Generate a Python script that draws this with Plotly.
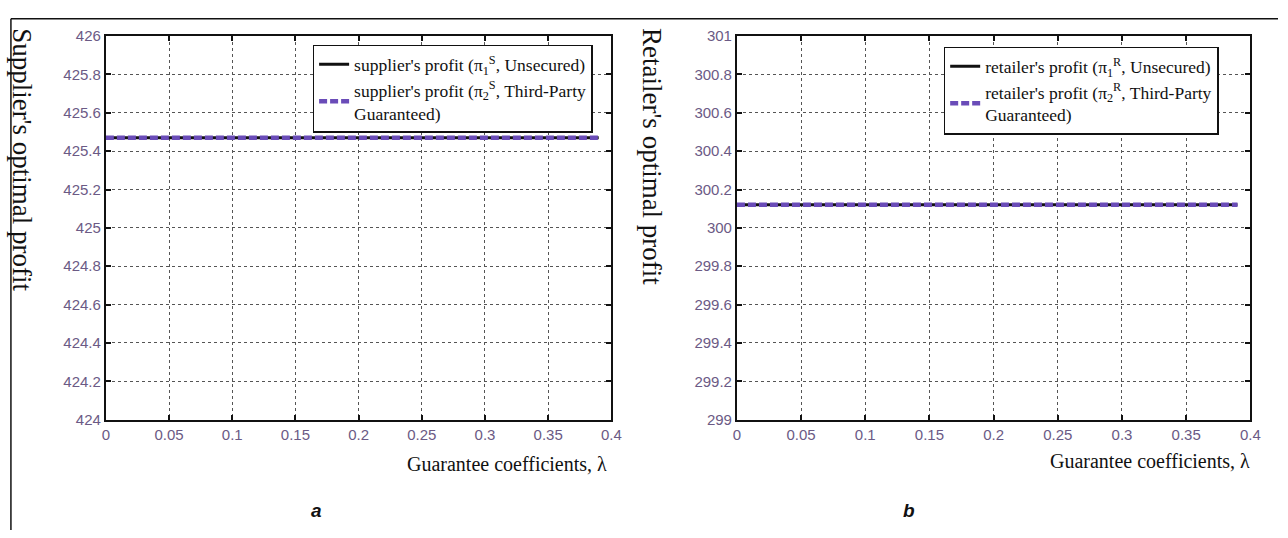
import plotly.graph_objects as go

# ---- data ----
lam = [0, 0.05, 0.1, 0.15, 0.2, 0.25, 0.3, 0.35, 0.39]
supplier_unsecured = [425.47] * 9
supplier_guaranteed = [425.47] * 9
retailer_unsecured = [300.12] * 9
retailer_guaranteed = [300.12] * 9

x_ticks = [0, 0.05, 0.1, 0.15, 0.2, 0.25, 0.3, 0.35, 0.4]
x_ticklabels = ["0", "0.05", "0.1", "0.15", "0.2", "0.25", "0.3", "0.35", "0.4"]
y_ticks_a = [424, 424.2, 424.4, 424.6, 424.8, 425, 425.2, 425.4, 425.6, 425.8, 426]
y_ticks_b = [299, 299.2, 299.4, 299.6, 299.8, 300, 300.2, 300.4, 300.6, 300.8, 301]

W, H = 1288, 538
def px_x(p): return p / W
def px_y(p): return 1 - p / H

TICKCOL = "#6b5a85"
SERIF = "Liberation Serif, Times New Roman, serif"
SANS = "Liberation Sans Narrow, Liberation Sans, Arial, sans-serif"
BLACK = "#111111"
PURPLE = "#6a4cb8"
DASH = "8px,3px"

fig = go.Figure()

fig.add_trace(go.Scatter(x=lam, y=supplier_unsecured, mode="lines",
                         line=dict(color=BLACK, width=3),
                         name="supplier's profit (π<sub>1</sub><sup>S</sup>, Unsecured)",
                         xaxis="x", yaxis="y", legend="legend"))
fig.add_trace(go.Scatter(x=lam, y=supplier_guaranteed, mode="lines",
                         line=dict(color=PURPLE, width=4.5, dash=DASH),
                         name="supplier's profit (π<sub>2</sub><sup>S</sup>, Third-Party<br>Guaranteed)",
                         xaxis="x", yaxis="y", legend="legend"))
fig.add_trace(go.Scatter(x=lam, y=retailer_unsecured, mode="lines",
                         line=dict(color=BLACK, width=3),
                         name="retailer's profit (π<sub>1</sub><sup>R</sup>, Unsecured)",
                         xaxis="x2", yaxis="y2", legend="legend2"))
fig.add_trace(go.Scatter(x=lam, y=retailer_guaranteed, mode="lines",
                         line=dict(color=PURPLE, width=4.5, dash=DASH),
                         name="retailer's profit (π<sub>2</sub><sup>R</sup>, Third-Party<br>Guaranteed)",
                         xaxis="x2", yaxis="y2", legend="legend2"))

axis_common = dict(showline=True, linecolor=BLACK, linewidth=2, mirror="ticks",
                   ticks="inside", ticklen=5, tickcolor=BLACK, tickwidth=1.5,
                   showgrid=True, gridcolor="#555555", griddash="dot", gridwidth=1,
                   zeroline=False, tickfont=dict(family=SANS, size=15, color=TICKCOL))

ybot, ytop = px_y(424), px_y(28)
fig.update_layout(
    width=W, height=H, autosize=False,
    margin=dict(l=0, r=0, t=0, b=0),
    paper_bgcolor="white", plot_bgcolor="white",
    xaxis=dict(domain=[px_x(103), px_x(614)], range=[0, 0.4], tickvals=x_ticks,
               ticktext=x_ticklabels, anchor="y", **axis_common),
    yaxis=dict(domain=[ybot, ytop], range=[424, 426], tickvals=y_ticks_a,
               ticktext=[f"{v:g}" for v in y_ticks_a], anchor="x", **axis_common),
    xaxis2=dict(domain=[px_x(741), px_x(1260)], range=[0, 0.4], tickvals=x_ticks,
                ticktext=x_ticklabels, anchor="y2", **axis_common),
    yaxis2=dict(domain=[ybot, ytop], range=[299, 301], tickvals=y_ticks_b,
                ticktext=[f"{v:g}" for v in y_ticks_b], anchor="x2", **axis_common),
    legend=dict(x=px_x(312), y=px_y(37), xanchor="left", yanchor="top",
                bgcolor="white", bordercolor=BLACK, borderwidth=1.5,
                font=dict(family=SERIF, size=17.5, color=BLACK), tracegroupgap=0),
    legend2=dict(x=px_x(950), y=px_y(39), xanchor="left", yanchor="top",
                 bgcolor="white", bordercolor=BLACK, borderwidth=1.5,
                 font=dict(family=SERIF, size=17.5, color=BLACK), tracegroupgap=0),
    showlegend=True,
)

annotations = [
    dict(text="Supplier's optimal profit", x=px_x(18), y=px_y(18), xanchor="center", yanchor="top",
         textangle=90, font=dict(family=SERIF, size=27, color=BLACK)),
    dict(text="Retailer's optimal profit", x=px_x(655), y=px_y(18), xanchor="center", yanchor="top",
         textangle=90, font=dict(family=SERIF, size=27, color=BLACK)),
    dict(text="Guarantee coefficients, λ", x=px_x(612), y=px_y(470), xanchor="right", yanchor="middle",
         font=dict(family=SERIF, size=20, color=BLACK)),
    dict(text="Guarantee coefficients, λ", x=px_x(1262), y=px_y(467), xanchor="right", yanchor="middle",
         font=dict(family=SERIF, size=20, color=BLACK)),
    dict(text="<b><i>a</i></b>", x=px_x(316), y=px_y(518), xanchor="center", yanchor="middle",
         font=dict(family="Liberation Sans, Arial, sans-serif", size=19, color=BLACK)),
    dict(text="<b><i>b</i></b>", x=px_x(915), y=px_y(518), xanchor="center", yanchor="middle",
         font=dict(family="Liberation Sans, Arial, sans-serif", size=19, color=BLACK)),
]
for a in annotations:
    a.update(xref="paper", yref="paper", showarrow=False)
fig.update_layout(annotations=annotations)

fig.update_layout(shapes=[
    dict(type="line", xref="paper", yref="paper", x0=px_x(7), x1=1, y0=px_y(10), y1=px_y(10),
         line=dict(color=BLACK, width=1.5)),
    dict(type="line", xref="paper", yref="paper", x0=px_x(7), x1=px_x(7), y0=0, y1=px_y(10),
         line=dict(color=BLACK, width=1.5)),
])

fig.write_html("out.html")
